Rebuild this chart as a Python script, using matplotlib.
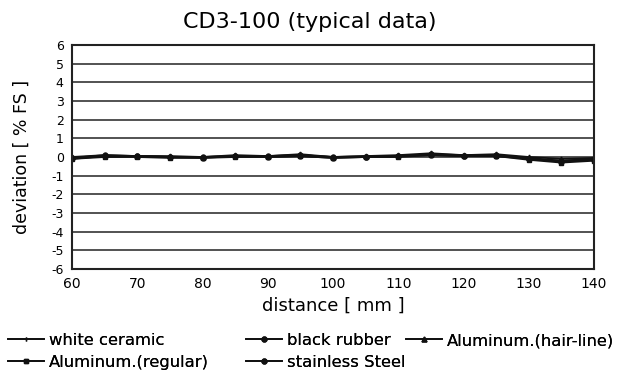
import matplotlib
matplotlib.use("Agg")
import matplotlib.pyplot as plt

plt.rcParams['font.family'] = ['DejaVu Sans']
plt.rcParams['axes.unicode_minus'] = False

distance = [60, 65, 70, 75, 80, 85, 90, 95, 100, 105, 110, 115, 120, 125, 130, 135, 140]
white_ceramic = [-0.1, 0.05, 0.05, 0.0, 0.0, 0.05, 0.05, 0.1, 0.0, 0.05, 0.05, 0.15, 0.1, 0.1, -0.05, -0.2, -0.1]
black_rubber = [-0.05, 0.1, 0.05, 0.0, -0.05, 0.05, 0.0, 0.05, -0.05, 0.0, 0.05, 0.1, 0.05, 0.05, -0.1, -0.25, -0.15]
aluminum_hairline = [0.0, 0.1, 0.05, 0.05, 0.0, 0.1, 0.05, 0.15, 0.0, 0.05, 0.1, 0.2, 0.1, 0.15, 0.0, -0.1, -0.05]
aluminum_regular = [-0.1, 0.0, 0.0, -0.05, -0.05, 0.0, 0.0, 0.05, -0.05, 0.0, 0.0, 0.1, 0.05, 0.05, -0.15, -0.3, -0.2]
stainless_steel = [-0.05, 0.05, 0.05, 0.0, 0.0, 0.05, 0.05, 0.1, 0.0, 0.0, 0.05, 0.15, 0.05, 0.1, -0.1, -0.2, -0.1]

labels = ["white ceramic", "black rubber", "Aluminum.(hair-line)",
          "Aluminum.(regular)", "stainless Steel"]
values = [white_ceramic, black_rubber, aluminum_hairline, aluminum_regular, stainless_steel]
markers = ['|', 'o', '^', 's', 'o']

W, H = 626, 374
fig = plt.figure(figsize=(W / 100, H / 100), dpi=100)
ax = fig.add_axes([72 / W, 1 - 269 / H, (594 - 72) / W, (269 - 45) / H])

handles = []
for label, vals, m in zip(labels, values, markers):
    h, = ax.plot(distance, vals, color='#111111', lw=1.3, marker=m, markersize=3.5,
                 markeredgewidth=1.0, label=label)
    handles.append(h)

ax.set_xlim(60, 140)
ax.set_ylim(-6, 6)
ax.set_xticks(range(60, 141, 10))
ax.set_yticks(range(-6, 7, 1))
ax.yaxis.grid(True, color='#444444', lw=1.3)
ax.set_axisbelow(True)
ax.tick_params(axis='x', length=0, labelsize=10, pad=6)
ax.tick_params(axis='y', length=0, labelsize=9, pad=6)
for s in ax.spines.values():
    s.set_linewidth(1.5)
    s.set_color('#222222')

fig.text(310 / W, 1 - 22 / H, "CD3-100 (typical data)", fontsize=16,
         ha='center', va='center')
ax.set_xlabel("distance [ mm ]", fontsize=13)
ax.xaxis.set_label_coords(0.5, -0.125)
ax.set_ylabel("deviation [ % FS ]", fontsize=12.5)
ax.yaxis.set_label_coords(-0.079, 0.5)

cols = [([0, 3], 8), ([1, 4], 246), ([2], 406)]
for idx, x0 in cols:
    leg = fig.legend([handles[i] for i in idx], [labels[i] for i in idx],
                     loc='upper left', bbox_to_anchor=(x0 / W, 1 - 333 / H),
                     frameon=False, fontsize=11.8, handlelength=2.2,
                     handletextpad=0.3, labelspacing=0.4, borderpad=0,
                     borderaxespad=0)
    fig.add_artist(leg)

fig.savefig("out.png", dpi=100)
